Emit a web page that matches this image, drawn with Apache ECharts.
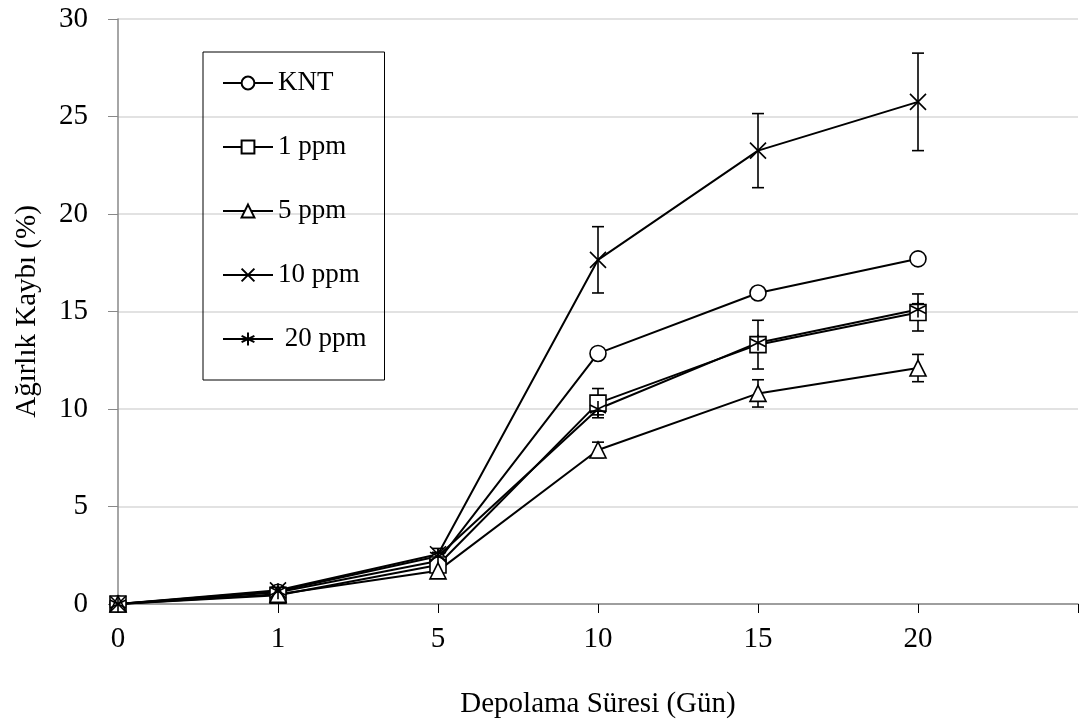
<!DOCTYPE html>
<html>
<head>
<meta charset="utf-8">
<script src="https://cdn.jsdelivr.net/npm/echarts@6/dist/echarts.min.js"></script>
<style>
  html, body { margin: 0; padding: 0; background: #fff; }
  #chart { width: 1079px; height: 725px; }
</style>
</head>
<body>
<div id="chart"></div>
<script>
// storage days (last slot is empty, axis runs on past 20)
const days = ['0', '1', '5', '10', '15', '20', ''];

const knt = [0, 0.6, 2.2, 12.85, 15.95, 17.7];
const ppm1 = [0, 0.45, 2.0, 10.3, 13.3, 14.95];
const ppm5 = [0, 0.5, 1.7, 7.9, 10.8, 12.1];
const ppm10 = [0, 0.7, 2.55, 17.65, 23.25, 25.75];
const ppm20 = [0, 0.65, 2.45, 10.0, 13.4, 15.1];

// standard deviations
const kntErr = [0, 0, 0.2, 0.2, 0.2, 0.2];
const ppm1Err = [0, 0.1, 0.3, 0.75, 1.25, 0.95];
const ppm5Err = [0, 0.1, 0.2, 0.4, 0.7, 0.7];
const ppm10Err = [0, 0.1, 0.3, 1.7, 1.9, 2.5];
const ppm20Err = [0, 0.1, 0.2, 0.3, 0.3, 0.3];

const font = 'Liberation Serif';
const crossPath = 'path://M0 0 L10 10 M10 0 L0 10';
const starPath = 'path://M5 0 L5 10 M0.7 2.5 L9.3 7.5 M0.7 7.5 L9.3 2.5';

function lineSeries(name, data, symbol, size) {
    return {
        name: name,
        type: 'line',
        data: data,
        symbol: symbol,
        symbolSize: size,
        showAllSymbol: true,
        z: 3,
        lineStyle: { color: '#000', width: 2 },
        itemStyle: {
            color: symbol.indexOf('path') === 0 ? 'none' : '#fff',
            borderColor: '#000',
            borderWidth: 1.6
        }
    };
}

function errSeries(vals, errs) {
    const d = vals.map((v, i) => [i, v - errs[i], v + errs[i]]);
    return {
        type: 'custom',
        z: 2,
        silent: true,
        data: d,
        renderItem: function(params, api) {
            const x = api.value(0);
            const lo = api.coord([x, api.value(1)]);
            const hi = api.coord([x, api.value(2)]);
            const w = 6;
            const style = { stroke: '#000', lineWidth: 1.6 };
            return {
                type: 'group',
                children: [
                    { type: 'line', shape: { x1: lo[0], y1: lo[1], x2: hi[0], y2: hi[1] }, style: style },
                    { type: 'line', shape: { x1: lo[0] - w, y1: lo[1], x2: lo[0] + w, y2: lo[1] }, style: style },
                    { type: 'line', shape: { x1: hi[0] - w, y1: hi[1], x2: hi[0] + w, y2: hi[1] }, style: style }
                ]
            };
        }
    };
}

const chart = echarts.init(document.getElementById('chart'));
chart.setOption({
    backgroundColor: '#fff',
    animation: false,
    textStyle: { fontFamily: font },
    grid: { left: 118, right: 1, top: 19, bottom: 121, outerBoundsMode: 'none', containLabel: false },
    legend: {
        data: ['KNT', '1 ppm', '5 ppm', '10 ppm', ' 20 ppm'],
        orient: 'vertical',
        left: 203,
        top: 52,
        padding: [17, 18, 27, 19],
        itemGap: 36,
        itemWidth: 50,
        itemHeight: 16,
        borderColor: '#000',
        borderWidth: 1,
        borderRadius: 0,
        textStyle: { fontFamily: font, fontSize: 27, color: '#000', lineHeight: 28 }
    },
    xAxis: {
        type: 'category',
        data: days,
        boundaryGap: false,
        name: 'Depolama Süresi (Gün)',
        nameLocation: 'middle',
        nameGap: 86,
        nameTextStyle: { fontFamily: font, fontSize: 29, color: '#000' },
        axisLine: { lineStyle: { color: '#888', width: 1.5 } },
        axisTick: { show: true, alignWithLabel: true, length: 9, lineStyle: { color: '#000' } },
        axisLabel: { fontFamily: font, fontSize: 29, color: '#000', margin: 21 },
        splitLine: { show: false }
    },
    yAxis: {
        type: 'value',
        min: 0,
        max: 30,
        interval: 5,
        name: 'Ağırlık Kaybı (%)',
        nameLocation: 'middle',
        nameGap: 76,
        nameTextStyle: { fontFamily: font, fontSize: 29, color: '#000' },
        axisLine: { show: true, lineStyle: { color: '#888', width: 1.5 } },
        axisTick: { show: true, length: 10, lineStyle: { color: '#888' } },
        axisLabel: { fontFamily: font, fontSize: 29, color: '#000', margin: 30 },
        splitLine: { show: true, lineStyle: { color: '#d9d9d9', width: 1.5 } }
    },
    series: [
        errSeries(knt, kntErr),
        errSeries(ppm1, ppm1Err),
        errSeries(ppm5, ppm5Err),
        errSeries(ppm10, ppm10Err),
        errSeries(ppm20, ppm20Err),
        lineSeries('KNT', knt, 'circle', 16),
        lineSeries('1 ppm', ppm1, 'rect', 16),
        lineSeries('5 ppm', ppm5, 'triangle', 16),
        lineSeries('10 ppm', ppm10, crossPath, 16),
        lineSeries(' 20 ppm', ppm20, starPath, 16)
    ]
});
</script>
</body>
</html>
